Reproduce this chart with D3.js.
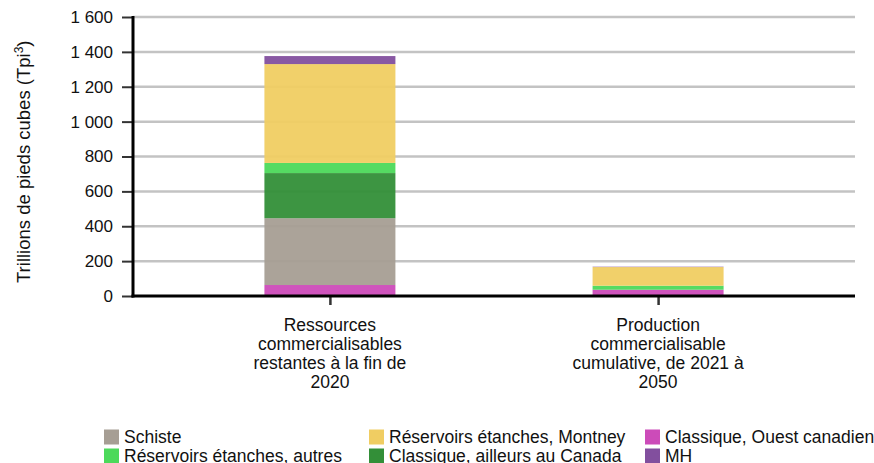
<!DOCTYPE html>
<html>
<head>
<meta charset="utf-8">
<script src="https://cdn.jsdelivr.net/npm/d3@7"></script>
<style>
  body { margin: 0; background: #fff; }
  svg { display: block; font-family: "Liberation Sans", Arial, sans-serif; }
</style>
</head>
<body>
<div id="chart"></div>
<script>
// categories (x axis), one label line per entry
var categories = ["ressources", "production"];
var categoryLines = [
    ["Ressources", "commercialisables", "restantes à la fin de", "2020"],
    ["Production", "commercialisable", "cumulative, de 2021 à", "2050"]
];

// series, bottom to top of the stack
var seriesNames = ["Classique, Ouest canadien", "Schiste", "Classique, ailleurs au Canada",
    "Réservoirs étanches, autres", "Réservoirs étanches, Montney", "MH"];
var ouestCanadien = [63, 36];
var schiste = [383, 0];
var ailleursCanada = [259, 0];
var etanchesAutres = [58, 23];
var etanchesMontney = [567, 107];
var mh = [46, 2];
var seriesColors = ["#cc4bb9", "#a69e94", "#338f38", "#4cd95a", "#f0cd62", "#824f9e"];

var yTicks = [0, 200, 400, 600, 800, 1000, 1200, 1400, 1600];

// legend layout order (row by row)
var legendOrder = ["Schiste", "Réservoirs étanches, Montney", "Classique, Ouest canadien",
    "Réservoirs étanches, autres", "Classique, ailleurs au Canada", "MH"];

var width = 874, height = 463;
var margin = {left: 133, right: 19, top: 17, bottom: 167};

var svg = d3.select("#chart").append("svg")
    .attr("width", width)
    .attr("height", height);

var allSeries = [ouestCanadien, schiste, ailleursCanada, etanchesAutres, etanchesMontney, mh];
var rows = categories.map(function(c, i) {
    var r = {category: c};
    seriesNames.forEach(function(s, j) { r[s] = allSeries[j][i]; });
    return r;
});
var stacked = d3.stack().keys(seriesNames)(rows);

var x = d3.scalePoint()
    .domain(categories)
    .range([margin.left, width - margin.right])
    .padding(0.6);
var barWidth = 131;

var y = d3.scaleLinear()
    .domain([0, 1600])
    .range([height - margin.bottom, margin.top]);

var color = d3.scaleOrdinal().domain(seriesNames).range(seriesColors);

var fr = d3.formatLocale({decimal: ",", thousands: " ", grouping: [3], currency: ["", ""]});

// gridlines
svg.append("g")
    .selectAll("line")
    .data(yTicks.slice(1))
    .enter()
    .append("line")
    .attr("x1", margin.left)
    .attr("x2", width - margin.right)
    .attr("y1", function(d) { return y(d); })
    .attr("y2", function(d) { return y(d); })
    .style("stroke", "#c3c3c3")
    .style("stroke-width", 2.5);

// bars
svg.append("g")
    .selectAll("g")
    .data(stacked)
    .enter()
    .append("g")
    .style("fill", function(d) { return color(d.key); })
    .style("fill-opacity", 0.95)
    .selectAll("rect")
    .data(function(d) { return d; })
    .enter()
    .append("rect")
    .attr("x", function(d) { return x(d.data.category) - barWidth / 2; })
    .attr("y", function(d) { return y(d[1]); })
    .attr("width", barWidth)
    .attr("height", function(d) { return Math.max(0, y(d[0]) - y(d[1])); });

// y axis
var yAxis = svg.append("g")
    .attr("transform", "translate(" + margin.left + ",0)")
    .call(d3.axisLeft(y).tickValues(yTicks).tickSize(11).tickPadding(9)
        .tickFormat(fr.format(",")));
yAxis.select(".domain").remove();
yAxis.selectAll(".tick line").style("stroke", "#333").style("stroke-width", 2);
yAxis.selectAll("text").style("font-size", "17px").style("fill", "#111");
svg.append("line")
    .attr("x1", margin.left).attr("x2", margin.left)
    .attr("y1", y(1600) - 1).attr("y2", y(0) + 1.5)
    .style("stroke", "#000").style("stroke-width", 3);

// x axis
var xAxis = svg.append("g")
    .attr("transform", "translate(0," + y(0) + ")")
    .call(d3.axisBottom(x).tickSize(9).tickFormat(""));
xAxis.select(".domain").remove();
xAxis.selectAll(".tick line").style("stroke", "#333").style("stroke-width", 2.5);
svg.append("line")
    .attr("x1", margin.left - 1.5).attr("x2", width - margin.right)
    .attr("y1", y(0)).attr("y2", y(0))
    .style("stroke", "#000").style("stroke-width", 3);

svg.append("g")
    .selectAll("text")
    .data(categories)
    .enter()
    .append("text")
    .attr("text-anchor", "middle")
    .style("font-size", "17.5px")
    .style("fill", "#111")
    .each(function(d, i) {
        var t = d3.select(this);
        categoryLines[i].forEach(function(line, k) {
            t.append("tspan")
                .attr("x", x(d))
                .attr("y", y(0) + 35 + k * 19)
                .text(line);
        });
    });

// y axis title, starts at the bottom and reads upward
var yTitle = svg.append("text")
    .attr("transform", "translate(30,283) rotate(-90)")
    .attr("text-anchor", "start")
    .style("font-size", "18.5px")
    .style("fill", "#111");
yTitle.append("tspan").text("Trillions de pieds cubes (Tpi");
yTitle.append("tspan").attr("dy", -7).style("font-size", "12px").text("3");
yTitle.append("tspan").attr("dy", 7).text(")");

// legend
var legendX = [104, 369, 645];
var legendY = [437, 456];
var legend = svg.append("g")
    .selectAll("g")
    .data(legendOrder)
    .enter()
    .append("g")
    .attr("transform", function(d, i) {
        return "translate(" + legendX[i % 3] + "," + legendY[Math.floor(i / 3)] + ")";
    });
legend.append("rect")
    .attr("x", 0).attr("y", -7.5)
    .attr("width", 15).attr("height", 15)
    .style("fill", function(d) { return color(d); });
legend.append("text")
    .attr("x", 20).attr("y", 6)
    .style("font-size", "17.5px")
    .style("fill", "#111")
    .text(function(d) { return d; });
</script>
</body>
</html>
